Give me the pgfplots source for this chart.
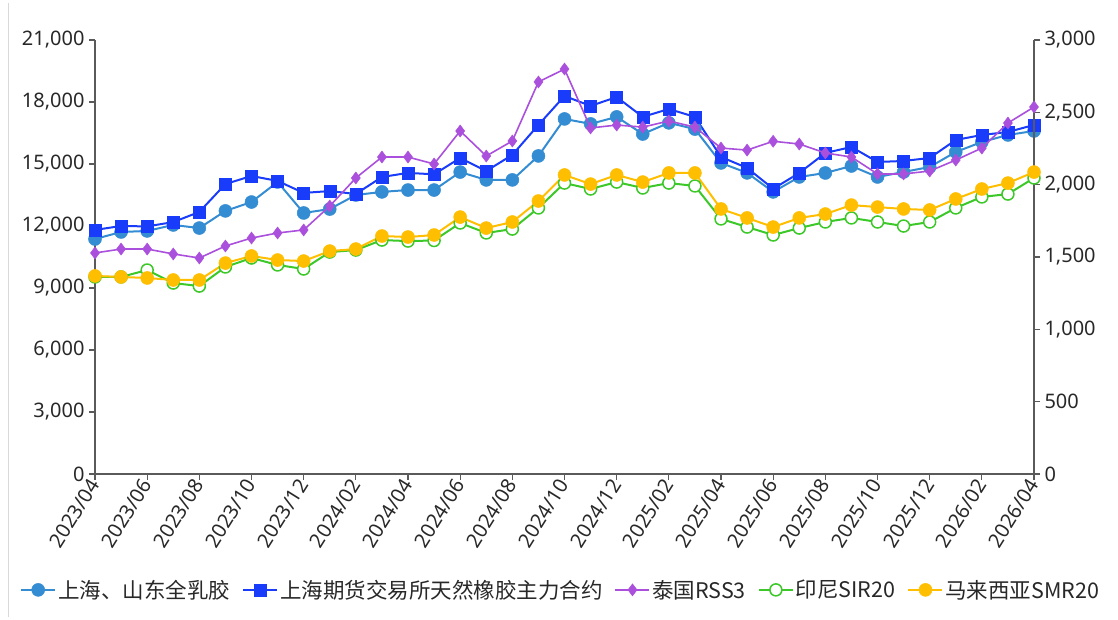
\documentclass[border=0pt]{standalone}
\usepackage{pgfplots}
\pgfplotsset{compat=1.18}
\usepackage{pgfplotstable}
\usepackage{fontspec}
\setmainfont{Noto Sans}
\newfontfamily\cjk{Noto Sans CJK SC}
\definecolor{cA}{RGB}{52,140,210}
\definecolor{cB}{RGB}{25,60,250}
\definecolor{cC}{RGB}{170,80,220}
\definecolor{cD}{RGB}{60,200,40}
\definecolor{cE}{RGB}{255,190,0}
\definecolor{axc}{RGB}{90,90,90}
\definecolor{txt}{RGB}{40,40,40}
\pgfplotstableread{
i A B C D E
0 11370 11810 1528 1362 1369
1 11710 12000 1555 1362 1362
2 11760 11980 1555 1410 1355
3 12050 12190 1521 1320 1341
4 11900 12680 1493 1299 1341
5 12730 14030 1576 1431 1458
6 13160 14420 1631 1493 1507
7 14130 14180 1666 1445 1479
8 12630 13600 1687 1417 1472
9 12820 13690 1852 1534 1541
10 13500 13550 2046 1548 1555
11 13650 14370 2191 1617 1645
12 13740 14570 2191 1610 1638
13 13740 14500 2143 1614 1652
14 14610 15290 2371 1735 1776
15 14230 14660 2198 1666 1700
16 14230 15440 2302 1693 1742
17 15390 16890 2710 1839 1887
18 17180 18290 2799 2011 2067
19 16940 17810 2392 1970 2004
20 17280 18240 2412 2018 2067
21 16450 17280 2398 1977 2018
22 16990 17660 2440 2011 2081
23 16690 17280 2398 1991 2081
24 15050 15340 2253 1763 1832
25 14570 14810 2239 1707 1770
26 13650 13800 2300 1652 1707
27 14372 14565 2281 1700 1770
28 14565 15533 2219 1742 1797
29 14903 15823 2191 1770 1859
30 14372 15098 2074 1742 1845
31 14613 15146 2074 1714 1832
32 14855 15291 2094 1742 1825
33 15581 16162 2170 1839 1901
34 16065 16404 2253 1915 1970
35 16404 16549 2426 1935 2011
36 16598 16888 2537 2046 2087
}\data
\pgfplotsset{
  base/.style={
    scale only axis, width=939pt, height=434pt,
    at={(0pt,0pt)}, anchor=south west,
    xmin=0, xmax=36, ymin=0,
    axis line style={axc, line width=1.3pt},
    tick style={axc, line width=1.1pt},
    tick align=outside,
    major tick length=6pt,
    ticklabel style={font=\fontsize{20}{22}\selectfont, text=txt},
    /pgf/number format/assume math mode=true,
    /pgf/number format/1000 sep={,},
    scaled y ticks=false,
  },
  lA/.style={cA, line width=2pt, mark=*, mark size=6.5pt, mark options={fill=cA, draw=cA, line width=0.5pt}},
  lB/.style={cB, line width=2pt, mark=square*, mark size=6pt, mark options={fill=cB, draw=cB, line width=0.5pt}},
  lC/.style={cC, line width=1.6pt, mark=diamond*, mark size=6pt, mark options={fill=cC, draw=cC, line width=0.5pt}},
  lD/.style={cD, line width=2pt, mark=*, mark size=6pt, mark options={fill=white, draw=cD, line width=1.5pt}},
  lE/.style={cE, line width=2pt, mark=*, mark size=6.5pt, mark options={fill=cE, draw=cE, line width=0.5pt}},
}
\begin{document}
\begin{tikzpicture}
\path[use as bounding box] (-95pt,-146pt) rectangle (1023pt,474pt);
\draw[gray!30, line width=0.8pt] (-87pt,471pt) -- (-87pt,-143pt);
\begin{axis}[base,
  ymax=21000,
  axis x line*=bottom, axis y line*=left,
  ytick={0,3000,...,21000},
  xtick={0,2,...,36},
  xticklabels={2023/04,2023/06,2023/08,2023/10,2023/12,2024/02,2024/04,2024/06,2024/08,2024/10,2024/12,2025/02,2025/04,2025/06,2025/08,2025/10,2025/12,2026/02,2026/04},
  xticklabel style={rotate=58, anchor=east, inner sep=1pt},
  yticklabel style={xshift=-1pt},
]
\addplot[lA] table[x=i, y=A] {\data};
\addplot[lB] table[x=i, y=B] {\data};
\end{axis}
\begin{axis}[base,
  ymax=3000,
  axis x line=none, axis y line*=right,
  ytick={0,500,...,3000},
  yticklabel style={xshift=1pt},
  legend style={at={(0.496,-0.267)}, anchor=center, draw=none, fill=none,
    legend columns=5, font=\cjk\fontsize{21.5}{23}\selectfont, text=txt,
    /tikz/every even column/.append style={column sep=10pt},
    inner sep=0pt},
  legend image code/.code={\draw[mark repeat=2, mark phase=2] plot coordinates {(0pt,0pt) (17pt,0pt) (34pt,0pt)};},
]
\addlegendimage{lA}
\addlegendentry{上海、山东全乳胶}
\addlegendimage{lB}
\addlegendentry{上海期货交易所天然橡胶主力合约}
\addplot[lC] table[x=i, y=C] {\data};
\addlegendentry{泰国RSS3}
\addplot[lD] table[x=i, y=D] {\data};
\addlegendentry{印尼SIR20}
\addplot[lE] table[x=i, y=E] {\data};
\addlegendentry{马来西亚SMR20}
\end{axis}
\end{tikzpicture}
\end{document}
